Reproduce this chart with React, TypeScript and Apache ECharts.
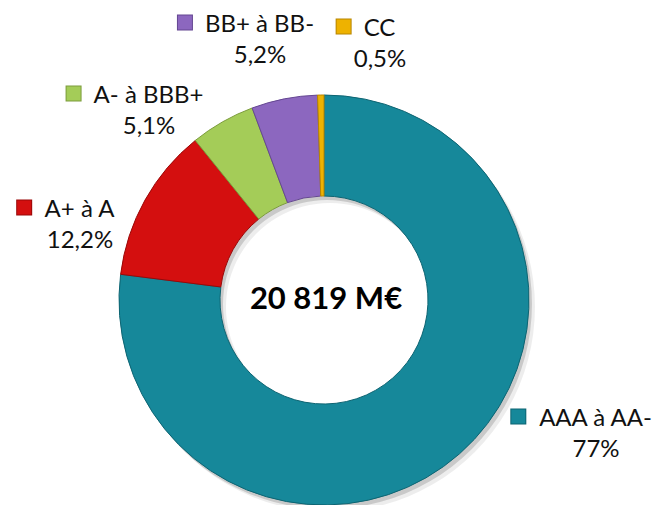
import React, { useEffect, useRef } from "react";
import * as echarts from "echarts";

const categories = ["AAA à AA-", "A+ à A", "A- à BBB+", "BB+ à BB-", "CC"];
const shares = [77, 12.2, 5.1, 5.2, 0.5];
const colors = ["#16889a", "#d40f0f", "#a4cc58", "#8c67bf", "#eeb200"];
const borderColors = ["#0d6472", "#9a0808", "#7c9c3c", "#654792", "#b88600"];
const totalLabel = "20 819 M€";
// label anchor (centre of name text) for each category
const labelAnchors: [number, number][] = [
  [596, 432],
  [80, 223],
  [149, 109],
  [260, 38],
  [380, 42],
];

const FONT = "Lato, 'Open Sans', sans-serif";

export default function App() {
  const ref = useRef<HTMLDivElement>(null);
  useEffect(() => {
    if (!ref.current) return;
    const chart = echarts.init(ref.current, undefined, { renderer: "svg" });
    const rich: Record<string, any> = {
      n: { fontSize: 24, fontFamily: FONT, color: "#111", lineHeight: 31 },
      p: { fontSize: 24, fontFamily: FONT, color: "#111", lineHeight: 31 },
      s: { width: 13, height: 15 },
      t: { width: 28, height: 15 },
    };
    colors.forEach((c, i) => {
      rich["m" + i] = {
        width: 14,
        height: 14,
        backgroundColor: c,
        borderColor: borderColors[i],
        borderWidth: 1,
      };
    });
    const shadowRing = (dx: number, dy: number, alpha: number) => ({
      type: "pie",
      silent: true,
      center: [324 + dx, 300 + dy],
      radius: [104, 205],
      label: { show: false },
      labelLine: { show: false },
      emphasis: { disabled: true },
      itemStyle: { color: `rgba(0,0,0,${alpha})` },
      data: [{ name: "shadow", value: 1 }],
      z: 1,
    });
    chart.setOption({
      animation: false,
      graphic: [
        {
          type: "text",
          x: 326,
          y: 297,
          style: {
            text: totalLabel,
            fontSize: 31,
            fontWeight: "bold",
            fontFamily: FONT,
            fill: "#000",
            textAlign: "center",
            textVerticalAlign: "middle",
          },
        },
      ],
      series: [
        shadowRing(6, 7, 0.07),
        shadowRing(3, 4, 0.15),
        {
          type: "pie",
          z: 2,
          center: [324, 300],
          radius: [104, 205],
          startAngle: 90,
          clockwise: true,
          avoidLabelOverlap: false,
          itemStyle: { borderWidth: 1 },
          label: {
            show: true,
            position: "outside",
            align: "center",
            verticalAlign: "middle",
            formatter: (p: any) =>
              `{m${p.dataIndex}|}{s|}{n|${p.name}}{t|}\n{p|${String(p.value).replace(".", ",")}%}`,
            rich,
          },
          labelLine: { show: false },
          labelLayout: (params: any) => {
            const a = labelAnchors[params.dataIndex];
            return { x: a[0], y: a[1], align: "center", verticalAlign: "middle" };
          },
          emphasis: { disabled: true },
          data: categories.map((name, i) => ({
            name,
            value: shares[i],
            itemStyle: { color: colors[i], borderColor: borderColors[i] },
          })),
        },
      ],
    });
    return () => chart.dispose();
  }, []);
  return (
    <div
      ref={ref}
      style={{ position: "fixed", left: 0, top: 0, width: 660, height: 505, background: "#fff" }}
    />
  );
}
